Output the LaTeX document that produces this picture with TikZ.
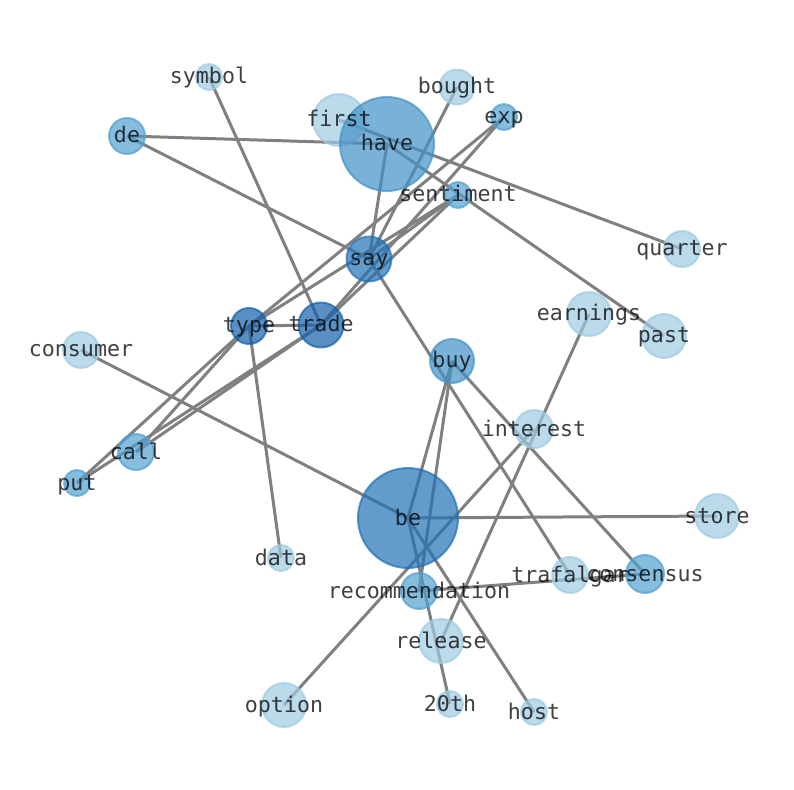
\documentclass[tikz,border=0pt]{standalone}
\usepackage{fontspec}
\setmonofont{DejaVu Sans Mono}
\usetikzlibrary{backgrounds}

\definecolor{lite}{RGB}{158,202,225}
\definecolor{mid}{RGB}{82,159,208}
\definecolor{high}{RGB}{66,146,198}
\definecolor{top}{RGB}{33,113,181}
\definecolor{deep}{RGB}{20,96,170}

\tikzset{
	vtx/.style={circle, inner sep=0pt, draw=#1, fill=#1, fill opacity=0.7, draw opacity=0.7, line width=0.04cm},
	rad/.style={minimum size=#1*0.04cm},
	lbl/.style={font=\ttfamily\fontsize{12.3}{14}\selectfont, text=black, text opacity=0.75, inner sep=0pt, text height=0.36cm, text depth=0.08cm},
	edge/.style={draw=gray, line width=0.06cm}
}

\begin{document}
\begin{tikzpicture}[x=0.02cm, y=-0.02cm]
		\useasboundingbox (0,0) rectangle (794,790);
		% words
		\node[vtx=lite, rad=13] (symbol) at (209,77) {};
		\node[vtx=lite, rad=17.5] (bought) at (457,87) {};
		\node[vtx=lite, rad=26] (first) at (339,120) {};
		\node[vtx=high, rad=47] (have) at (387,144) {};
		\node[vtx=mid, rad=13] (exp) at (504,117) {};
		\node[vtx=mid, rad=18] (de) at (127,136) {};
		\node[vtx=mid, rad=13] (sentiment) at (458,195) {};
		\node[vtx=lite, rad=18] (quarter) at (682,249) {};
		\node[vtx=top, rad=22.5] (say) at (369,259) {};
		\node[vtx=deep, rad=18] (type) at (249,326) {};
		\node[vtx=deep, rad=22.5] (trade) at (321,325) {};
		\node[vtx=lite, rad=18] (consumer) at (81,350) {};
		\node[vtx=lite, rad=22] (earnings) at (589,314) {};
		\node[vtx=lite, rad=22] (past) at (664,336) {};
		\node[vtx=high, rad=22] (buy) at (452,361) {};
		\node[vtx=lite, rad=19] (interest) at (534,429) {};
		\node[vtx=mid, rad=18] (call) at (136,452) {};
		\node[vtx=mid, rad=13] (put) at (77,483) {};
		\node[vtx=top, rad=50] (be) at (408,518) {};
		\node[vtx=lite, rad=22] (store) at (717,516) {};
		\node[vtx=lite, rad=13] (data) at (281,558) {};
		\node[vtx=lite, rad=18] (trafalgar) at (570,575) {};
		\node[vtx=mid, rad=19] (consensus) at (645,574) {};
		\node[vtx=mid, rad=18] (recommendation) at (419,591) {};
		\node[vtx=lite, rad=22] (release) at (441,641) {};
		\node[vtx=lite, rad=22] (option) at (284,705) {};
		\node[vtx=lite, rad=13] (20th) at (450,704) {};
		\node[vtx=lite, rad=13] (host) at (534,712) {};
		% labels
		\node[lbl] (symbol-l) at (symbol) {symbol};
		\node[lbl] (bought-l) at (bought) {bought};
		\node[lbl] (first-l) at (first) {first};
		\node[lbl] (have-l) at (have) {have};
		\node[lbl] (exp-l) at (exp) {exp};
		\node[lbl] (de-l) at (de) {de};
		\node[lbl] (sentiment-l) at (sentiment) {sentiment};
		\node[lbl] (quarter-l) at (quarter) {quarter};
		\node[lbl] (say-l) at (say) {say};
		\node[lbl] (type-l) at (type) {type};
		\node[lbl] (trade-l) at (trade) {trade};
		\node[lbl] (consumer-l) at (consumer) {consumer};
		\node[lbl] (earnings-l) at (earnings) {earnings};
		\node[lbl] (past-l) at (past) {past};
		\node[lbl] (buy-l) at (buy) {buy};
		\node[lbl] (interest-l) at (interest) {interest};
		\node[lbl] (call-l) at (call) {call};
		\node[lbl] (put-l) at (put) {put};
		\node[lbl] (be-l) at (be) {be};
		\node[lbl] (store-l) at (store) {store};
		\node[lbl] (data-l) at (data) {data};
		\node[lbl] (trafalgar-l) at (trafalgar) {trafalgar};
		\node[lbl] (consensus-l) at (consensus) {consensus};
		\node[lbl] (recommendation-l) at (recommendation) {recommendation};
		\node[lbl] (release-l) at (release) {release};
		\node[lbl] (option-l) at (option) {option};
		\node[lbl] (20th-l) at (20th) {20th};
		\node[lbl] (host-l) at (host) {host};
		% links
		\begin{scope}[on background layer]
		\draw[edge] (de.center) -- (have.center);
		\draw[edge] (de.center) -- (say.center);
		\draw[edge] (symbol.center) -- (trade.center);
		\draw[edge] (first.center) -- (quarter.center);
		\draw[edge] (have.center) -- (past.center);
		\draw[edge] (have.center) -- (say.center);
		\draw[edge] (bought.center) -- (say.center);
		\draw[edge] (exp.center) -- (type.center);
		\draw[edge] (exp.center) -- (trade.center);
		\draw[edge] (sentiment.center) -- (say.center);
		\draw[edge] (sentiment.center) -- (type.center);
		\draw[edge] (sentiment.center) -- (trade.center);
		\draw[edge] (type.center) -- (trade.center);
		\draw[edge] (type.center) -- (put.center);
		\draw[edge] (type.center) -- (call.center);
		\draw[edge] (trade.center) -- (put.center);
		\draw[edge] (trade.center) -- (call.center);
		\draw[edge] (type.center) -- (data.center);
		\draw[edge] (say.center) -- (trafalgar.center);
		\draw[edge] (buy.center) -- (consensus.center);
		\draw[edge] (buy.center) -- (be.center);
		\draw[edge] (buy.center) -- (recommendation.center);
		\draw[edge] (be.center) -- (consumer.center);
		\draw[edge] (be.center) -- (store.center);
		\draw[edge] (be.center) -- (20th.center);
		\draw[edge] (be.center) -- (host.center);
		\draw[edge] (interest.center) -- (option.center);
		\draw[edge] (earnings.center) -- (release.center);
		\draw[edge] (recommendation.center) -- (consensus.center);
		\end{scope}
	\end{tikzpicture}
\end{document}
